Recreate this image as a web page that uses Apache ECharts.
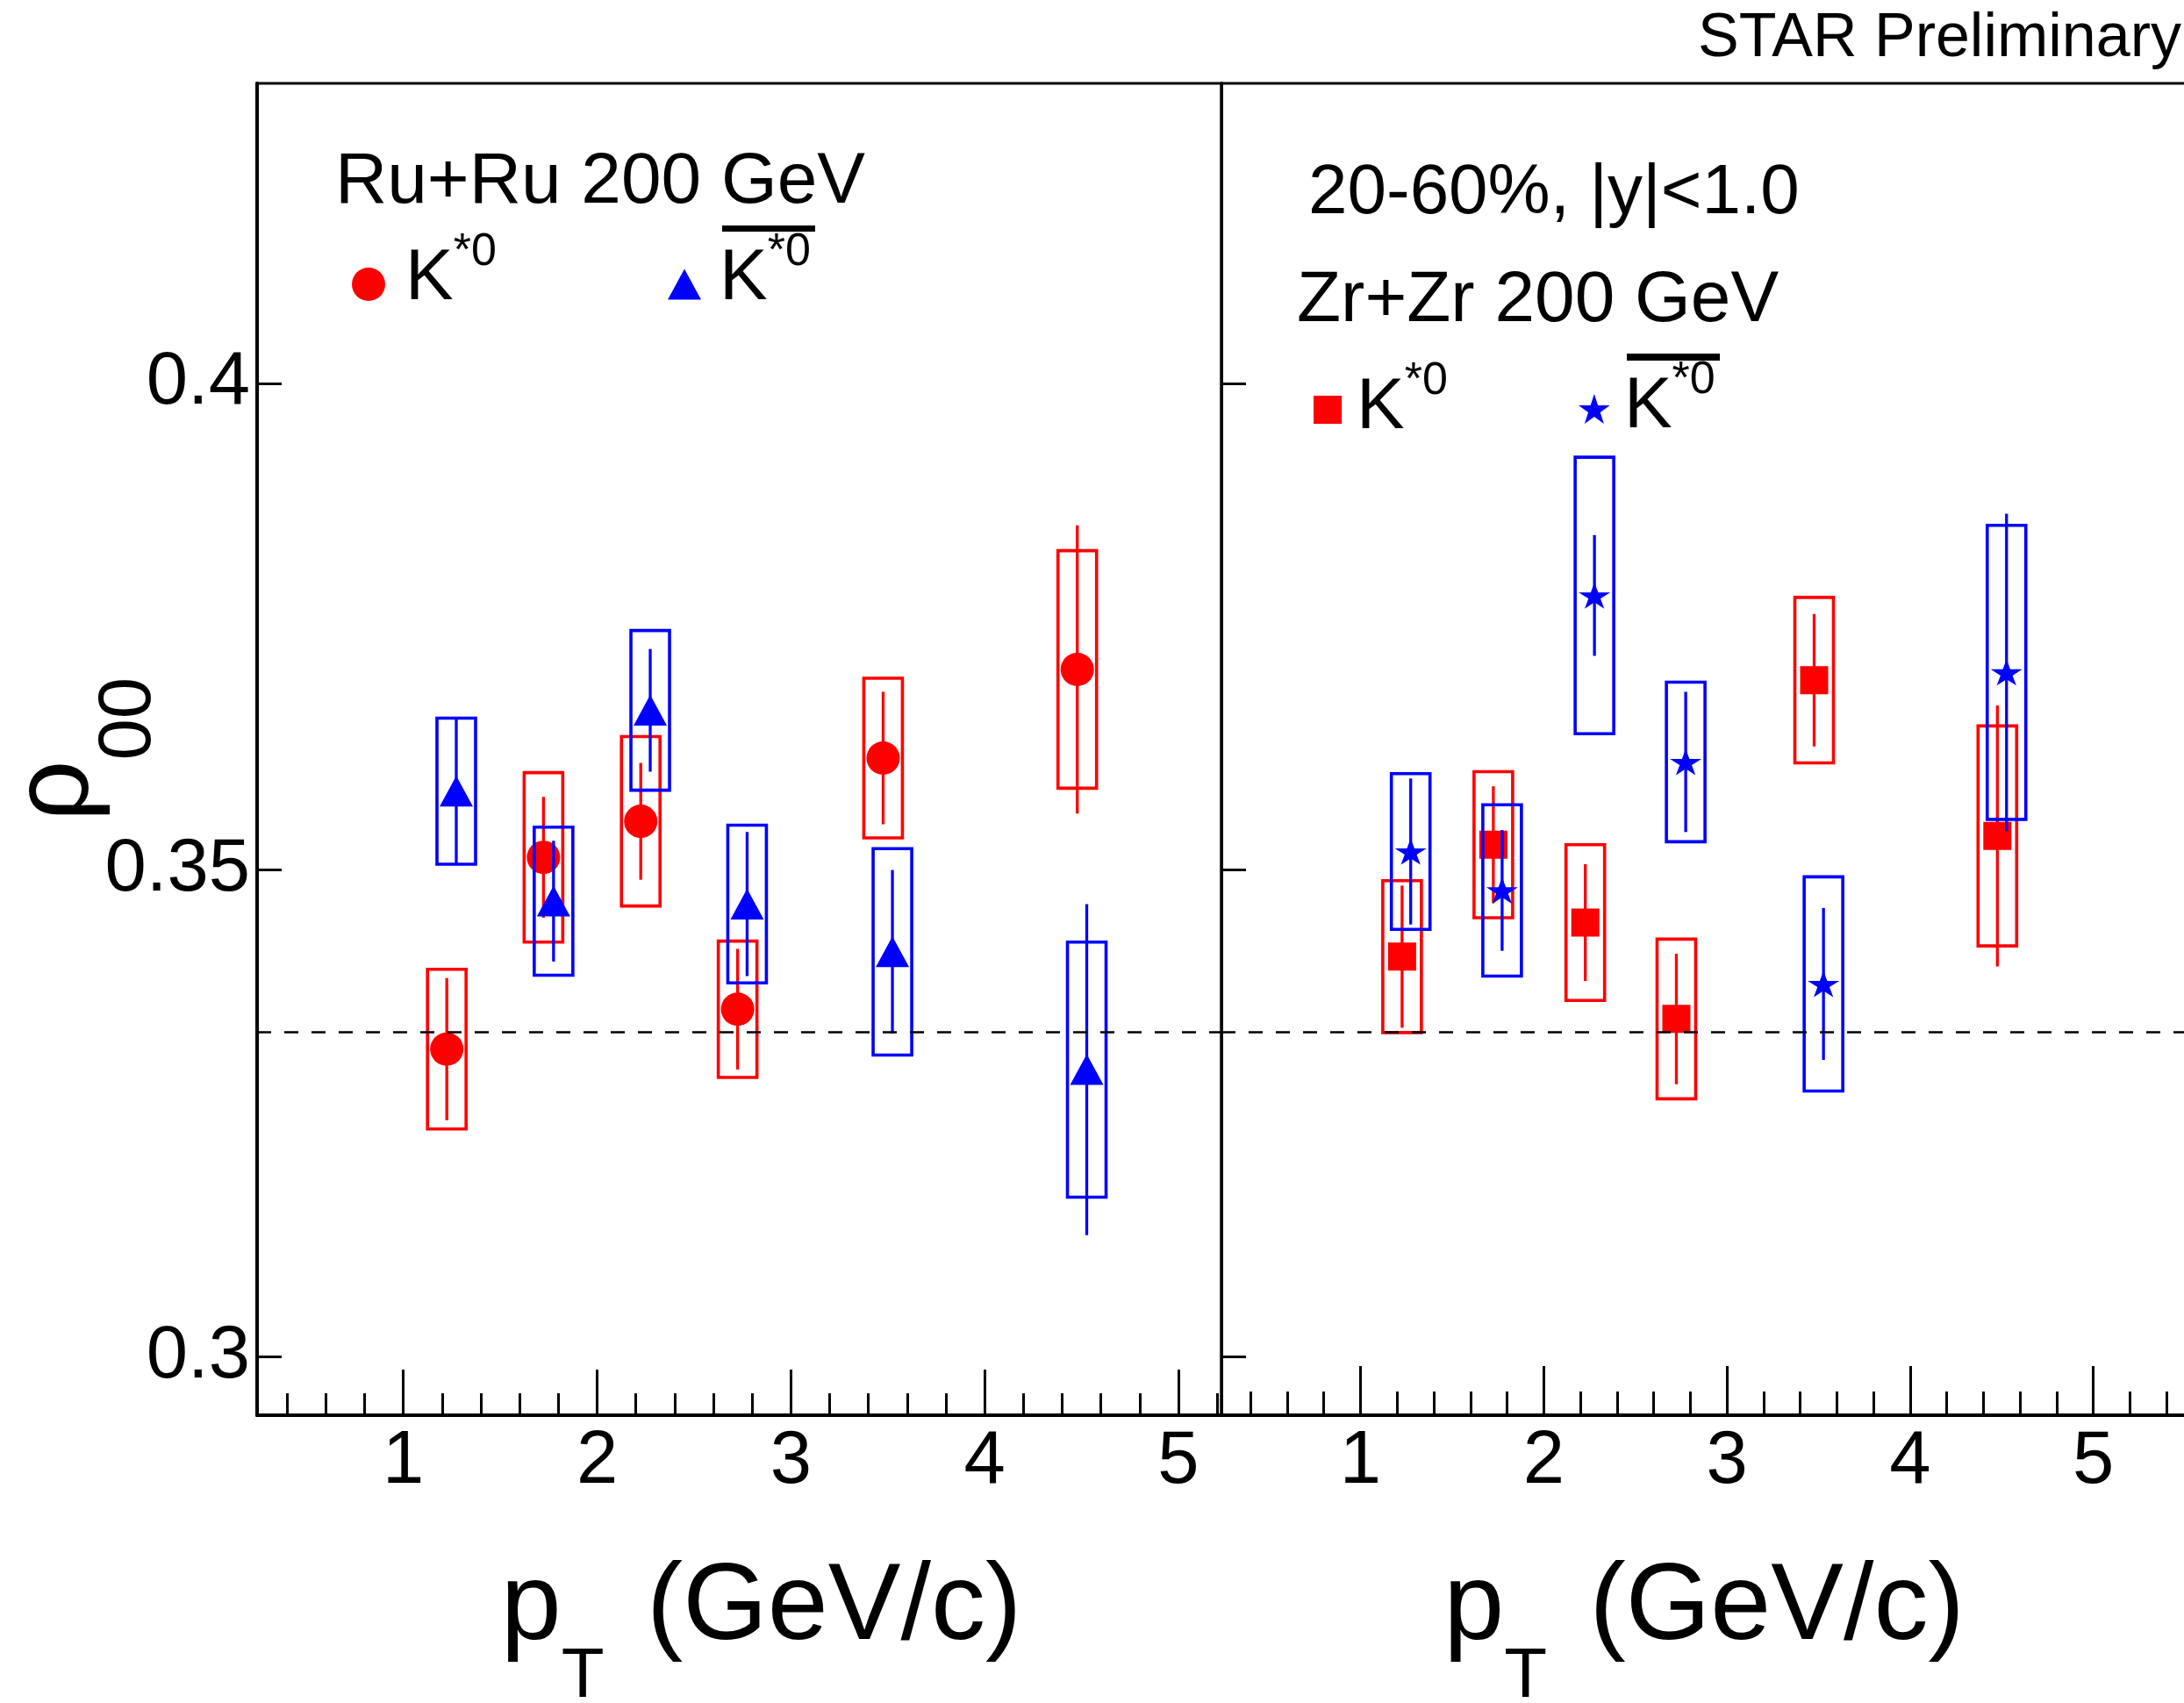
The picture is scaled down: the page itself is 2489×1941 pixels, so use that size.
<!DOCTYPE html>
<html><head><meta charset="utf-8">
<script src="https://cdn.jsdelivr.net/npm/echarts@6/dist/echarts.min.js"></script>
<style>html,body{margin:0;padding:0;background:#fff}#c{width:2489px;height:1941px}</style>
</head><body><div id="c"></div>
<script>
// ---------------- data ----------------
const ptRuK      = [1.224, 1.723, 2.225, 2.725, 3.476, 4.478];
const valRuK     = [0.3316, 0.3513, 0.3550, 0.3357, 0.3615, 0.3706];
const statRuK    = [0.0073, 0.0062, 0.0060, 0.0062, 0.0068, 0.0148];
const sysRuK     = [0.0082, 0.0087, 0.0087, 0.0070, 0.0082, 0.0122];

const ptRuKbar   = [1.273, 1.775, 2.274, 2.774, 3.524, 4.527];
const valRuKbar  = [0.3581, 0.3468, 0.3664, 0.3465, 0.3416, 0.3295];
const statRuKbar = [0.0075, 0.0062, 0.0063, 0.0074, 0.0084, 0.0170];
const sysRuKbar  = [0.0075, 0.0076, 0.0082, 0.0081, 0.0106, 0.0131];

const ptZrK      = [1.227, 1.725, 2.227, 2.724, 3.476, 4.476];
const valZrK     = [0.3411, 0.3526, 0.3446, 0.3347, 0.3695, 0.3535];
const statZrK    = [0.0073, 0.0060, 0.0060, 0.0067, 0.0068, 0.0134];
const sysZrK     = [0.0078, 0.0075, 0.0080, 0.0082, 0.0085, 0.0113];

const ptZrKbar   = [1.274, 1.773, 2.277, 2.775, 3.527, 4.526];
const valZrKbar  = [0.3519, 0.3479, 0.3782, 0.3611, 0.3383, 0.3703];
const statZrKbar = [0.0075, 0.0062, 0.0062, 0.0072, 0.0078, 0.0163];
const sysZrKbar  = [0.0080, 0.0088, 0.0142, 0.0082, 0.0110, 0.0151];

const xMajorTicks = [1, 2, 3, 4, 5];
const xMinorTicksLeft  = [0.4,0.6,0.8,1.2,1.4,1.6,1.8,2.2,2.4,2.6,2.8,3.2,3.4,3.6,3.8,4.2,4.4,4.6,4.8,5.2];
const xMinorTicksRight = [0.4,0.6,0.8,1.2,1.4,1.6,1.8,2.2,2.4,2.6,2.8,3.2,3.4,3.6,3.8,4.2,4.4,4.6,4.8,5.2,5.4];
const yTicks = [0.3, 0.35, 0.4];
const unpolarised = 1 / 3;

// ---------------- styling ----------------
const FONT = '"Liberation Sans", Arial, Helvetica, sans-serif';
const RED = '#ff0000', BLUE = '#0000ff';
const STAR = 'path://M0,-1L0.2245,-0.309L0.9511,-0.309L0.3633,0.118L0.5878,0.809L0,0.382L-0.5878,0.809L-0.3633,0.118L-0.9511,-0.309L-0.2245,-0.309Z';

function errData(pt, val, stat, sys) { return pt.map((p, i) => [p, val[i], stat[i], sys[i]]); }
function ptData(pt, val) { return pt.map((p, i) => [p, val[i]]); }

function errSeries(name, pt, val, stat, sys, color, xi, yi, z, withLine) {
  const s = {
    type: 'custom', name: name, xAxisIndex: xi, yAxisIndex: yi, z: z, clip: false, silent: true,
    encode: { x: 0, y: 1 },
    data: errData(pt, val, stat, sys),
    renderItem: function (params, api) {
      const x = api.value(0), y = api.value(1), st = api.value(2), sy = api.value(3);
      const c = api.coord([x, y]);
      const bt = api.coord([x, y + sy])[1], bb = api.coord([x, y - sy])[1];
      const s1 = api.coord([x, y + st])[1], s2 = api.coord([x, y - st])[1];
      const hw = 22;
      return { type: 'group', children: [
        { type: 'rect', shape: { x: c[0] - hw, y: bt, width: 2 * hw, height: bb - bt },
          style: { fill: 'none', stroke: color, lineWidth: 3.6 } },
        { type: 'line', shape: { x1: c[0], y1: s1, x2: c[0], y2: s2 },
          style: { stroke: color, lineWidth: 3.3 } }
      ]};
    }
  };
  if (withLine) {
    s.markLine = { silent: true, symbol: ['none', 'none'], label: { show: false }, precision: 10,
      lineStyle: { color: '#000', width: 2.5, type: [16, 15] },
      emphasis: { disabled: true },
      data: [{ yAxis: unpolarised }] };
  }
  return s;
}
function markSeries(name, pt, val, color, symbol, size, xi, yi, z) {
  return { type: 'scatter', name: name, xAxisIndex: xi, yAxisIndex: yi, z: z, silent: true,
    symbol: symbol, symbolSize: size, itemStyle: { color: color, opacity: 1 },
    emphasis: { disabled: true }, data: ptData(pt, val) };
}

function xAxisMajor(grid, min, max, tickLen) {
  return { type: 'value', gridIndex: grid, min: min, max: max, position: 'bottom',
    axisLine: { show: true, onZero: false, lineStyle: { color: '#000', width: 4 } },
    axisTick: { show: true, inside: true, length: tickLen, customValues: xMajorTicks, lineStyle: { color: '#000', width: 3 } },
    axisLabel: { show: true, customValues: xMajorTicks, margin: 11, color: '#000', fontSize: 85, fontFamily: FONT },
    splitLine: { show: false },
    name: '{p|p}{t|T}{p| (GeV/c)}', nameLocation: 'middle', nameGap: 159, nameMoveOverlap: false,
    nameTextStyle: { color: '#000', padding: grid === 0 ? [0, 0, 0, 50] : 0,
      rich: {
        p: { fontSize: 124, height: 124, fontFamily: FONT, color: '#000', verticalAlign: 'top' },
        t: { fontSize: 80, height: 80, fontFamily: FONT, color: '#000', verticalAlign: 'top', padding: [100, 14, 0, 0] }
      } }
  };
}
function xAxisMinor(grid, min, max, ticks, tickLen) {
  return { type: 'value', gridIndex: grid, min: min, max: max, position: 'bottom',
    axisLine: { show: false, onZero: false },
    axisTick: { show: true, inside: true, length: tickLen, customValues: ticks, lineStyle: { color: '#000', width: 3 } },
    axisLabel: { show: false }, splitLine: { show: false } };
}
function yAxisDef(grid, labels, lineW) {
  const a = { type: 'value', gridIndex: grid, min: 0.294, max: 0.4308, position: 'left',
    axisLine: { show: true, onZero: false, lineStyle: { color: '#000', width: lineW } },
    axisTick: { show: true, inside: true, length: 28, customValues: yTicks, lineStyle: { color: '#000', width: 3 } },
    axisLabel: { show: labels, customValues: yTicks, margin: 8, color: '#000', fontSize: 85, fontFamily: FONT },
    splitLine: { show: false } };
  if (labels) {
    a.name = '{r|ρ}{s|00}';
    a.nameLocation = 'middle';
    a.nameRotate = 90;
    a.nameGap = 103;
    a.nameMoveOverlap = false;
    a.nameTextStyle = { color: '#000', rich: {
      r: { fontSize: 122, height: 122, fontFamily: FONT, color: '#000', verticalAlign: 'top' },
      s: { fontSize: 85, height: 85, fontFamily: FONT, color: '#000', verticalAlign: 'top', padding: [100, 0, 0, 0] }
    } };
  }
  return a;
}
function legendDef(name, icon, left, top, w, h, padL, padB) {
  return { show: true, data: [{ name: name, icon: icon }], left: left, top: top, orient: 'horizontal',
    itemWidth: w, itemHeight: h, itemGap: 0, padding: 0, selectedMode: false,
    formatter: function () { return '{k|K}{s|*0}'; },
    textStyle: { color: '#000', rich: {
      k: { fontSize: 82, height: 82, fontFamily: FONT, color: '#000', verticalAlign: 'top', padding: [15, 0, padB, padL] },
      s: { fontSize: 52, height: 52, fontFamily: FONT, color: '#000', verticalAlign: 'top' }
    } } };
}
function label(text, x, y, size) {
  return { type: 'text', x: x, y: y, silent: true,
    style: { text: text, font: size + 'px ' + FONT, fill: '#000',
      align: 'left', verticalAlign: 'middle', textAlign: 'left', textVerticalAlign: 'middle' } };
}

const option = {
  animation: false,
  backgroundColor: '#ffffff',
  grid: [
    { left: 293, top: 95, width: 1099, height: 1518, show: true, borderColor: '#000', borderWidth: 3,
      backgroundColor: 'transparent', containLabel: false, outerBoundsMode: 'none' },
    { left: 1392, top: 95, width: 1100, height: 1518, show: true, borderColor: '#000', borderWidth: 3,
      backgroundColor: 'transparent', containLabel: false, outerBoundsMode: 'none' }
  ],
  xAxis: [
    xAxisMajor(0, 0.245, 5.222, 52),
    xAxisMinor(0, 0.245, 5.222, xMinorTicksLeft, 25),
    xAxisMajor(1, 0.241, 5.509, 56),
    xAxisMinor(1, 0.241, 5.509, xMinorTicksRight, 27)
  ],
  yAxis: [ yAxisDef(0, true, 4), yAxisDef(1, false, 3) ],
  legend: [
    legendDef('Ru+Ru K*0', 'circle', 401, 262, 38, 38, 18, 27),
    legendDef('Ru+Ru anti-K*0', 'triangle', 761, 262, 38, 35, 16, 27),
    legendDef('Zr+Zr K*0', 'rect', 1497, 409, 32, 32, 12, 19),
    legendDef('Zr+Zr anti-K*0', STAR, 1799, 408, 36, 34, 11, 19)
  ],
  graphic: [
    label('Ru+Ru 200 GeV', 382, 208, 82),
    label('20-60%, |y|<1.0', 1491, 221, 80),
    label('Zr+Zr 200 GeV', 1478, 343, 82),
    label('STAR Preliminary', 1935, 45, 70),
    { type: 'rect', silent: true, shape: { x: 823, y: 257, width: 106, height: 7 }, style: { fill: '#000' } },
    { type: 'rect', silent: true, shape: { x: 1854, y: 403, width: 106, height: 8 }, style: { fill: '#000' } }
  ],
  series: [
    errSeries('Ru+Ru K*0 sys', ptRuK, valRuK, statRuK, sysRuK, RED, 0, 0, 2, true),
    markSeries('Ru+Ru K*0', ptRuK, valRuK, RED, 'circle', 38, 0, 0, 3),
    errSeries('Ru+Ru anti-K*0 sys', ptRuKbar, valRuKbar, statRuKbar, sysRuKbar, BLUE, 0, 0, 4, false),
    markSeries('Ru+Ru anti-K*0', ptRuKbar, valRuKbar, BLUE, 'triangle', [38, 35], 0, 0, 5),
    errSeries('Zr+Zr K*0 sys', ptZrK, valZrK, statZrK, sysZrK, RED, 2, 1, 2, true),
    markSeries('Zr+Zr K*0', ptZrK, valZrK, RED, 'rect', 32, 2, 1, 3),
    errSeries('Zr+Zr anti-K*0 sys', ptZrKbar, valZrKbar, statZrKbar, sysZrKbar, BLUE, 2, 1, 4, false),
    markSeries('Zr+Zr anti-K*0', ptZrKbar, valZrKbar, BLUE, STAR, [36, 30], 2, 1, 5)
  ]
};
const chart = echarts.init(document.getElementById('c'), null, { renderer: 'canvas', width: 2489, height: 1941 });
chart.setOption(option);
</script></body></html>
